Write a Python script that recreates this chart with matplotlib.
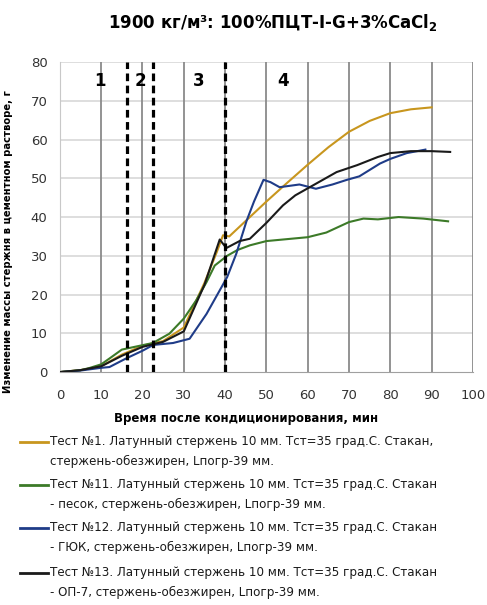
import matplotlib
matplotlib.use("Agg")
import matplotlib.pyplot as plt
from matplotlib.lines import Line2D

# ---- data ----
t_test1 = [0, 5, 10, 15, 20, 25, 30, 35, 38, 39.5, 41, 45, 50, 55, 60, 65, 70, 75, 80, 85, 90]
v_test1 = [0, 0.5, 1.5, 4.5, 6.8, 8.0, 11.5, 23, 31, 35.3, 35, 39, 44, 48.8, 53.5, 58, 62, 64.8, 66.8, 67.8, 68.3]

t_test11 = [0, 5, 7, 10, 12, 15, 18.5, 22.5, 26.5, 30, 33, 35.5, 37.5, 40.5, 43, 46, 50, 55, 60, 64.5, 70, 73.5, 77, 82, 88, 94]
v_test11 = [0, 0.5, 1, 2, 3.5, 5.8, 6.6, 7.5, 9.9, 13.8, 18.5, 23.2, 27.5, 30, 31.5, 32.7, 33.8, 34.3, 34.8, 36, 38.7, 39.6, 39.4, 40, 39.6, 38.9]

t_test12 = [0, 5, 10, 12, 16, 20, 22.6, 27.4, 31.4, 35.5, 40.5, 42.7, 45.2, 47, 49.3, 51, 53.2, 58, 62, 66, 69.5, 72.5, 77.5, 80, 84, 88.5]
v_test12 = [0, 0.4, 1.1, 1.3, 3.5, 5.5, 7.0, 7.5, 8.6, 15, 24.5, 30.5, 39, 44, 49.6, 49, 47.7, 48.4, 47.3, 48.4, 49.6, 50.5, 53.8, 55, 56.5, 57.4]

t_test13 = [0, 5, 10, 15, 20, 25, 30, 35, 38.7, 40.3, 43.5, 46, 50, 54, 57, 62, 67, 72, 77, 80, 85, 90, 94.5]
v_test13 = [0, 0.5, 1.5, 4.2, 6.5, 7.8, 10.5, 22.5, 34.2, 32, 33.8, 34.4, 38.5, 43, 45.6, 48.6, 51.6, 53.4, 55.5, 56.5, 57, 57, 56.8]

stage_bounds = [16.3, 22.5, 40]
stage_labels = ["1", "2", "3", "4"]
stage_label_x = [9.7, 19.5, 33.5, 54]

x_ticks = list(range(0, 101, 10))
y_ticks = list(range(0, 81, 10))

labels = [
    "Тест №1. Латунный стержень 10 мм. Тст=35 град.С. Стакан,\nстержень-обезжирен, Lпогр-39 мм.",
    "Тест №11. Латунный стержень 10 мм. Тст=35 град.С. Стакан\n- песок, стержень-обезжирен, Lпогр-39 мм.",
    "Тест №12. Латунный стержень 10 мм. Тст=35 град.С. Стакан\n- ГЮК, стержень-обезжирен, Lпогр-39 мм.",
    "Тест №13. Латунный стержень 10 мм. Тст=35 град.С. Стакан\n- ОП-7, стержень-обезжирен, Lпогр-39 мм.",
]
colors = ["#C8961E", "#3C7A28", "#1F3C88", "#1A1A1A"]

# ---- figure ----
fig = plt.figure(figsize=(4.87, 6.05), dpi=100)
ax = fig.add_axes([0.123, 0.385, 0.848, 0.5125])

series = [(t_test1, v_test1), (t_test11, v_test11), (t_test12, v_test12), (t_test13, v_test13)]
lines = []
for (t, v), c in zip(series, colors):
    ln, = ax.plot(t, v, color=c, lw=1.5, zorder=3)
    lines.append(ln)

ax.set_xlim(0, 100)
ax.set_ylim(0, 80)
ax.set_xticks(x_ticks)
ax.set_yticks(y_ticks)
for s in ["top", "right"]:
    ax.spines[s].set_visible(False)
ax.spines["left"].set_color("#c8c8c8")
ax.spines["bottom"].set_color("#a0a0a0")
ax.tick_params(length=0, labelsize=9.5, colors="#333333")
ax.tick_params(axis="x", pad=12)
ax.tick_params(axis="y", pad=9)

for x in x_ticks[1:]:
    ax.axvline(x, color="#8a8a8a", lw=1.3, zorder=1)
for y in y_ticks[1:]:
    ax.axhline(y, color="#d4d4d4", lw=1.1, zorder=0)

for xb in stage_bounds:
    ax.axvline(xb, color="black", lw=2.3, ls=(0, (2.4, 1.4)), zorder=4)
for lx, lab in zip(stage_label_x, stage_labels):
    ax.text(lx, 75, lab, ha="center", va="center", fontsize=12, fontweight="bold")

fig.text(0.56, 0.963, "1900 кг/м³: 100%ПЦТ-I-G+3%CaCl$_\\mathbf{2}$", ha="center", va="center",
         fontsize=12, fontweight="bold")
fig.text(0.505, 0.309, "Время после кондиционирования, мин", ha="center", va="center",
         fontsize=8.5, fontweight="bold")
fig.text(0.017, 0.60, "Изменение массы стержня в цементном растворе, г", rotation=90,
         ha="center", va="center", fontsize=7.2, fontweight="bold")

# legend (manual)
leg_y = [442, 485, 528, 573]
for ln, lab, yp in zip(lines, labels, leg_y):
    yf = 1 - yp / 605
    fig.add_artist(Line2D([20 / 487, 48 / 487], [yf, yf], transform=fig.transFigure,
                          color=ln.get_color(), lw=2))
    fig.text(50 / 487, yf + 0.012, lab, ha="left", va="top", fontsize=8.6,
             linespacing=1.75, color="#1a1a1a")

fig.savefig("out.png", dpi=100)
